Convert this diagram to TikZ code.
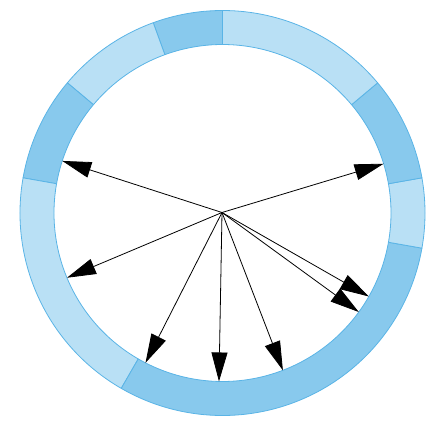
\documentclass[tikz,border=0pt]{standalone}
\usetikzlibrary{arrows.meta,calc}
\definecolor{segdark}{HTML}{88C9ED}
\definecolor{seglight}{HTML}{B9E0F5}
\definecolor{segline}{HTML}{5AB4E6}
\tikzset{
  ringseg/.style={draw=segline,line width=0.8pt,line join=round},
  ray/.style={draw=black,line width=0.8pt,-{Triangle[length=29pt,width=16pt]}},
}
\newcommand{\ringpiece}[3]{%
  \path[ringseg,fill=#3] ($(c)+(#1:202.5)$) arc[start angle=#1,end angle=#2,radius=202.5]
    -- ($(c)+(#2:168.5)$) arc[start angle=#2,end angle=#1,radius=168.5] -- cycle;}
\begin{document}
\begin{tikzpicture}[x=1pt,y=1pt]
\useasboundingbox (0,0) rectangle (444,421);
\coordinate (c) at (222.5,208);
\coordinate (o) at (222,208.5);
\ringpiece{90}{110}{segdark}
\ringpiece{110}{140}{seglight}
\ringpiece{140}{170}{segdark}
\ringpiece{170}{240}{seglight}
\ringpiece{240}{350}{segdark}
\ringpiece{-10}{10}{seglight}
\ringpiece{10}{40}{segdark}
\ringpiece{40}{90}{seglight}
\foreach \a [count=\i] in {162,17,202.6,242.8,268.8,291,324,330.3}{
  \coordinate (t\i) at ($(c)+(\a:168.5)$);
  \draw[ray] (o) -- (t\i);
}
\end{tikzpicture}
\end{document}
